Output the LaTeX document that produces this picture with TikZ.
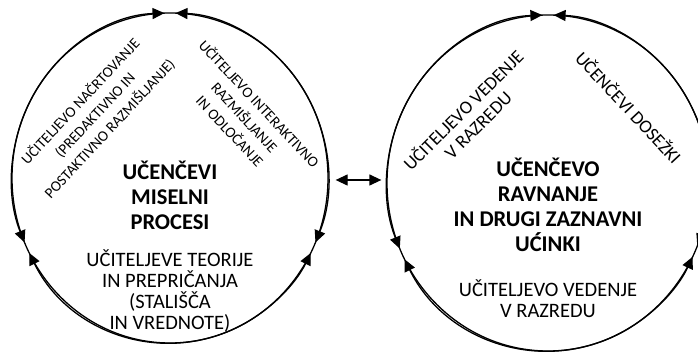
\documentclass[tikz,border=0pt]{standalone}
\usepackage{fontspec}
\setmainfont{Carlito}
\usetikzlibrary{shapes.geometric,arrows.meta,calc}
\begin{document}
\begin{tikzpicture}[x=1pt,y=1pt,
  ring/.style={draw, ellipse, line width=1.3pt, inner sep=0pt},
  tipboth/.style={line width=1.3pt, {Triangle[length=12pt,width=11pt]}-{Triangle[length=12pt,width=11pt]}},
  title/.style={font=\bfseries\fontsize{22.5}{25}\selectfont, align=center, inner sep=0pt},
  sub/.style={font=\fontsize{20.5}{21}\selectfont, align=center, inner sep=0pt},
  rot/.style={font=\fontsize{15}{20}\selectfont, align=center, inner sep=0pt},
  rotbig/.style={font=\fontsize{18.5}{21}\selectfont, align=center, inner sep=0pt}]
\useasboundingbox (0,0) rectangle (698,356);
% circles
\node[ring, minimum width=316pt, minimum height=330pt] (L) at (170,178) {};
\node[ring, minimum width=322pt, minimum height=336pt] (R) at (548,173) {};
% left cycle arcs
\draw[tipboth] ($(L.center)+(92:158pt and 165pt)$) arc[start angle=92,end angle=203,x radius=158pt,y radius=165pt];
\draw[tipboth] ($(L.center)+(207:158pt and 165pt)$) arc[start angle=207,end angle=333,x radius=158pt,y radius=165pt];
\draw[tipboth] ($(L.center)+(337:158pt and 165pt)$) arc[start angle=337,end angle=448,x radius=158pt,y radius=165pt];
% right cycle arcs
\draw[tipboth] ($(R.center)+(92:161pt and 168pt)$) arc[start angle=92,end angle=203,x radius=161pt,y radius=168pt];
\draw[tipboth] ($(R.center)+(207:161pt and 168pt)$) arc[start angle=207,end angle=334,x radius=161pt,y radius=168pt];
\draw[tipboth] ($(R.center)+(338:161pt and 168pt)$) arc[start angle=338,end angle=448,x radius=161pt,y radius=168pt];
% link between circles
\draw[tipboth] ($(L.east)+(7,-2)$) -- ($(R.west)+(-5,3)$);
% left circle texts
\node[title] (lt) at (170,161) {UČENČEVI\\MISELNI\\PROCESI};
\node[sub] (lb) at (170,65) {UČITELJEVE TEORIJE\\IN PREPRIČANJA\\(STALIŠČA\\IN VREDNOTE)};
\node[rot, rotate=47] (la) at (95,241) {UČITELJEVO NAČRTOVANJE\\(PREDAKTIVNO IN\\POSTAKTIVNO RAZMIŠLJANJE)};
\node[rot, rotate=-47] (lc) at (245,239) {UČITELJEVO INTERAKTIVNO\\RAZMIŠLJANJE\\IN ODLOČANJE};
% right circle texts
\node[title] (rt) at (548,151) {UČENČEVO\\RAVNANJE\\IN DRUGI ZAZNAVNI\\UĆINKI};
\node[sub] (rb) at (548,57) {UČITELJEVO VEDENJE\\V RAZREDU};
\node[rotbig, rotate=45] (ra) at (470,239) {UČITELJEVO VEDENJE\\V RAZREDU};
\node[rotbig, rotate=-47] (rc) at (629,249) {UČENČEVI DOSEŽKI};
\end{tikzpicture}
\end{document}
